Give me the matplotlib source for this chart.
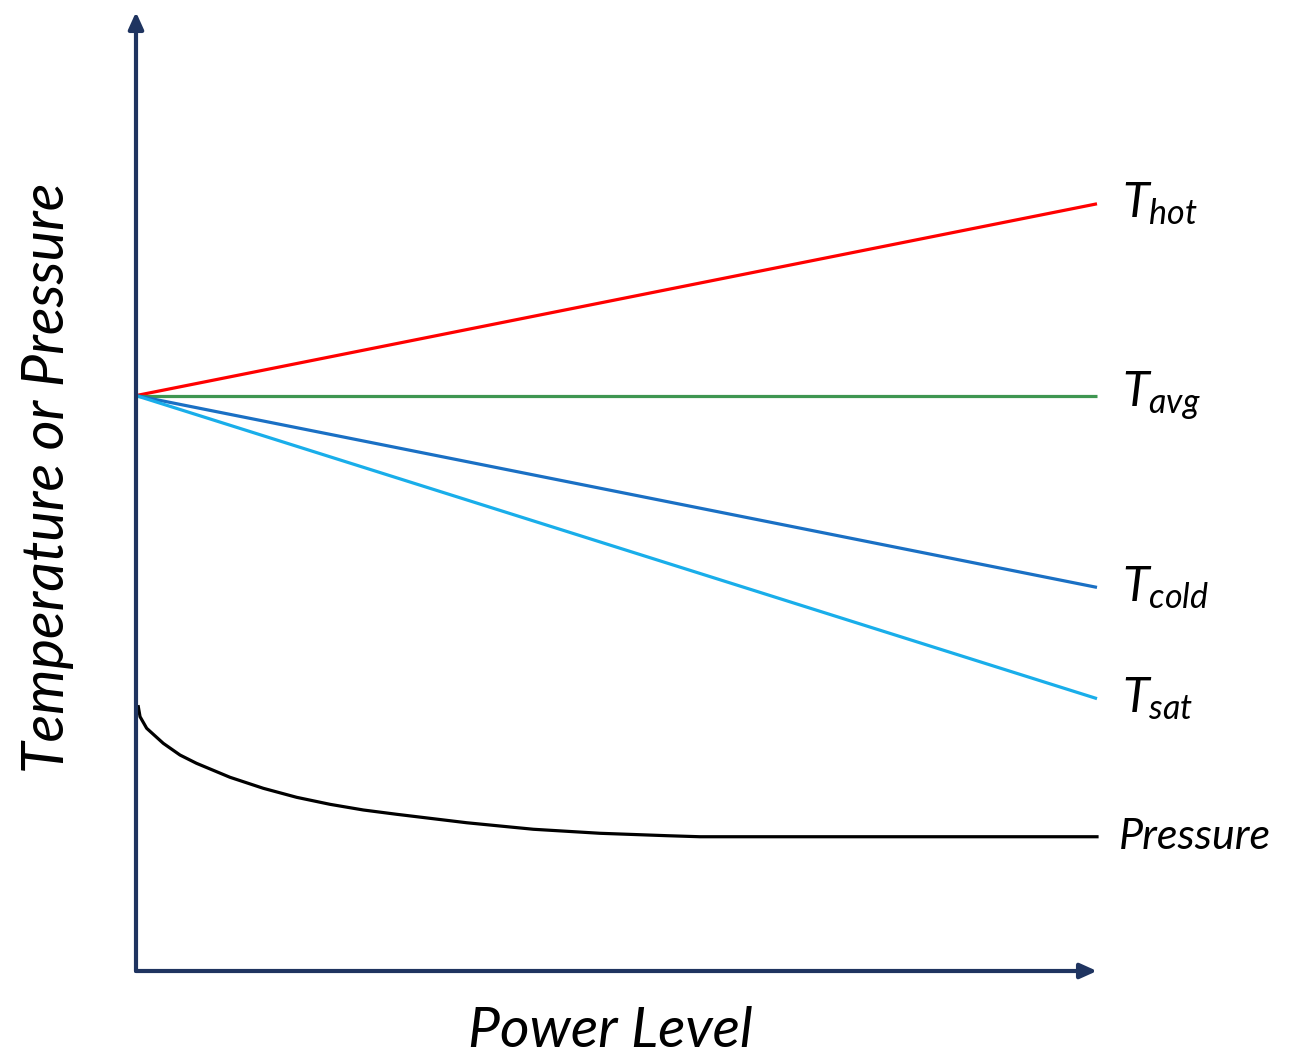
import numpy as np
import matplotlib
matplotlib.use("Agg")
import matplotlib.pyplot as plt

plt.rcParams["font.family"] = ["Lato", "DejaVu Sans"]
plt.rcParams["mathtext.fontset"] = "custom"
plt.rcParams["mathtext.it"] = "Lato:italic"
plt.rcParams["mathtext.rm"] = "Lato"

# data (arbitrary units: power level 0-100, temperature/pressure 0-100)
power_ends = [0, 100]
t_hot = [60.0, 80.0]
t_avg = [60.0, 60.0]
t_cold = [60.0, 40.0]
t_sat = [60.0, 28.4]

pressure_x = [0.24, 0.42, 1.11, 2.84, 4.58, 6.29, 9.78, 13.25, 16.72, 20.19,
              23.65, 27.13, 34.41, 41.34, 48.28, 55.22, 58.69, 69.09, 100]
pressure_y = [27.56, 26.52, 25.31, 23.74, 22.52, 21.66, 20.20, 19.05, 18.11, 17.38,
              16.79, 16.34, 15.46, 14.78, 14.36, 14.11, 14.0, 14.0, 14.0]

series = [
    (t_hot, "#FF0000", r"$T_{hot}$"),
    (t_avg, "#3E9651", r"$T_{avg}$"),
    (t_cold, "#1A70C4", r"$T_{cold}$"),
    (t_sat, "#19AEEA", r"$T_{sat}$"),
]
axis_color = "#1F3460"

fig = plt.figure(figsize=(12.92, 10.58), dpi=100)
ax = fig.add_axes([136 / 1292, 1 - 971 / 1058, 961 / 1292, 959 / 1058])
ax.set_xlim(0, 100)
ax.set_ylim(0, 100)
for s in ax.spines.values():
    s.set_visible(False)
ax.set_xticks([])
ax.set_yticks([])

for ys, col, lab in series:
    ax.plot(power_ends, ys, color=col, lw=2.3, solid_capstyle="butt", clip_on=False)
    ax.text(102.6, ys[-1], lab, fontsize=35, color="black", ha="left", va="center")

ax.plot(pressure_x, pressure_y, color="black", lw=2.3, clip_on=False,
        solid_joinstyle="round")
ax.text(102.3, pressure_y[-1], "Pressure", fontsize=31, style="italic",
        ha="left", va="center")

# axis arrows
arrow = dict(arrowstyle="-|>,head_length=1.0,head_width=0.45", color=axis_color,
             lw=3, shrinkA=0, shrinkB=0)
ax.annotate("", xy=(0, 1), xytext=(0, 0), xycoords="axes fraction",
            arrowprops=arrow, annotation_clip=False)
ax.annotate("", xy=(1, 0), xytext=(0, 0), xycoords="axes fraction",
            arrowprops=arrow, annotation_clip=False)

fig.text(48 / 1292, 1 - 478 / 1058, "Temperature or Pressure", rotation=90,
         fontsize=41.5, style="italic", ha="center", va="center")
fig.text(610 / 1292, 1 / 1058, "Power Level", fontsize=41,
         style="italic", ha="center", va="bottom")

fig.savefig("out.png", dpi=100, facecolor="white")
